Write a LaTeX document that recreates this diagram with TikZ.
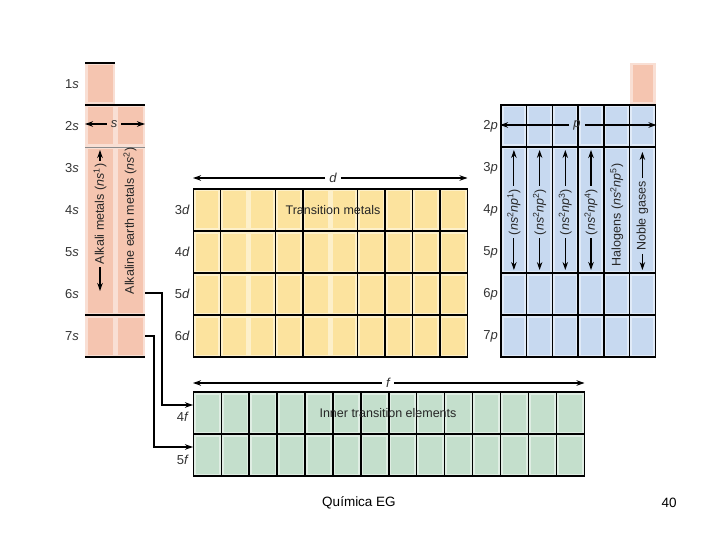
\documentclass[tikz,border=0pt]{standalone}
\usepackage{fontspec}
\setmainfont{Liberation Sans}
\usetikzlibrary{arrows.meta}

\definecolor{sblk}{RGB}{245,197,176}
\definecolor{dblk}{RGB}{252,227,158}
\definecolor{pblk}{RGB}{199,217,240}
\definecolor{fblk}{RGB}{196,223,204}

\tikzset{
  blackline/.style={line width=1.4pt},
  dimarrow/.style={-{Stealth[length=8pt,width=5.5pt]}, line width=1.1pt},
  rowlbl/.style={anchor=east, font=\fontsize{13}{15}\selectfont, inner sep=1pt, text=black!80},
  dimlbl/.style={font=\fontsize{13}{15}\selectfont\itshape, inner sep=4pt, text=black!80},
  collbl/.style={rotate=90, font=\fontsize{12.5}{14}\selectfont, inner sep=3pt, text=black!85},
  blklbl/.style={font=\fontsize{12.5}{14}\selectfont, text=black!85},
  footlbl/.style={font=\fontsize{13.5}{16}\selectfont}
}

% one cell: x, y, width, height, colour
\newcommand{\tcell}[5]{%
  \fill[#5!55!white] (#1,#2) rectangle ++(#3,#4);
  \fill[#5] (#1+2.5,#2+2.5) rectangle ++(#3-5,#4-5);}

\begin{document}
\begin{tikzpicture}[x=1pt,y=-1pt]
\useasboundingbox (0,0) rectangle (720,540);

% s block
\tcell{85}{63}{30}{42}{sblk}
\foreach \c in {0,1} {
  \tcell{85+30*\c}{105}{30}{42}{sblk}
  \tcell{85+30*\c}{147}{30}{168}{sblk}
  \tcell{85+30*\c}{315}{30}{42}{sblk}
}
\draw[black!45, line width=0.4pt] (85,147) -- (145,147);
\draw[blackline] (85,63) -- (115,63) (85,105) -- (145,105)
  (85,315) -- (145,315) (85,357) -- (145,357);

% helium
\tcell{630.2}{63}{25.7}{42}{sblk}

% d block
\foreach \c in {0,...,9} {\foreach \r in {0,...,3} {\tcell{193.3+27.4*\c}{189+42*\r}{27.4}{42}{dblk}}}
\draw[blackline] (193.3,189) rectangle (467.3,357);
\foreach \r in {1,2,3} \draw[blackline] (193.3,189+42*\r) -- (467.3,189+42*\r);
\foreach \c in {1,3,4,6,7,8,9} \draw[blackline] (193.3+27.4*\c,189) -- (193.3+27.4*\c,357);

% p block
\foreach \c in {0,...,5} {
  \tcell{501+25.7*\c}{105}{25.7}{42}{pblk}
  \tcell{501+25.7*\c}{147}{25.7}{126}{pblk}
  \tcell{501+25.7*\c}{273}{25.7}{42}{pblk}
  \tcell{501+25.7*\c}{315}{25.7}{42}{pblk}
}
\draw[blackline] (501,105) rectangle (655.2,357);
\foreach \y in {147,273,315} \draw[blackline] (501,\y) -- (655.2,\y);
\foreach \c in {1,...,5} \draw[blackline] (501+25.7*\c,105) -- (501+25.7*\c,357);

% f block
\foreach \c in {0,...,13} {\foreach \r in {0,1} {\tcell{193.3+27.93*\c}{392+42*\r}{27.93}{42}{fblk}}}
\draw[blackline] (193.3,392) rectangle (584.3,476);
\draw[blackline] (193.3,434) -- (584.3,434);
\foreach \c in {1,...,13} \draw[blackline] (193.3+27.93*\c,392) -- (193.3+27.93*\c,476);

% row labels
\foreach \n in {1,...,7} \node[rowlbl] (ls\n) at (80,42*\n+42) {\n\textit{s}};
\foreach \n in {3,...,6} \node[rowlbl] (ld\n) at (191,42*\n+84) {\n\textit{d}};
\foreach \n in {2,...,7} \node[rowlbl] (lp\n) at (499,42*\n+42) {\n\textit{p}};
\node[rowlbl] (lf4) at (190,417) {4\textit{f}};
\node[rowlbl] (lf5) at (190,460) {5\textit{f}};

% block widths
\node[dimlbl] (sdim) at (114,124) {s};
\coordinate (sdimL) at (85,124);
\coordinate (sdimR) at (145,124);
\draw[dimarrow] (sdim) -- (sdimL);
\draw[dimarrow] (sdim) -- (sdimR);

\node[dimlbl] (ddim) at (333,178) {d};
\coordinate (ddimL) at (193,178);
\coordinate (ddimR) at (467.5,178);
\draw[dimarrow] (ddim) -- (ddimL);
\draw[dimarrow] (ddim) -- (ddimR);

\node[dimlbl] (pdim) at (577,125) {p};
\coordinate (pdimL) at (500,125);
\coordinate (pdimR) at (656.5,125);
\draw[dimarrow] (pdim) -- (pdimL);
\draw[dimarrow] (pdim) -- (pdimR);

\node[dimlbl] (fdim) at (388,383) {f};
\coordinate (fdimL) at (193,383);
\coordinate (fdimR) at (584.5,383);
\draw[dimarrow] (fdim) -- (fdimL);
\draw[dimarrow] (fdim) -- (fdimR);

% group names
\node[collbl] (alk) at (100,214) {Alkali metals (\textit{ns}\textsuperscript{1})};
\coordinate (alkT) at (100,150);
\coordinate (alkB) at (100,291);
\draw[dimarrow] (alk) -- (alkT);
\draw[dimarrow] (alk) -- (alkB);
\node[collbl] (aearth) at (130,221) {Alkaline earth metals (\textit{ns}\textsuperscript{2})};

\foreach \k in {1,...,4} {
  \node[collbl] (pg\k) at (488.2+25.7*\k,212) {(\textit{ns}\textsuperscript{2}\textit{np}\textsuperscript{\k})};
  \coordinate (pgT\k) at (488.2+25.7*\k,150);
  \coordinate (pgB\k) at (488.2+25.7*\k,270);
  \draw[dimarrow] (pg\k) -- (pgT\k);
  \draw[dimarrow] (pg\k) -- (pgB\k);
}
\node[collbl] (halo) at (616.7,215) {Halogens (\textit{ns}\textsuperscript{2}\textit{np}\textsuperscript{5})};
\node[collbl] (noble) at (642.4,216) {Noble gases};
\coordinate (nobT) at (642.4,152);
\coordinate (nobB) at (642.4,270);
\draw[dimarrow] (noble) -- (nobT);
\draw[dimarrow] (noble) -- (nobB);

\node[blklbl] (trans) at (333,210) {Transition metals};
\node[blklbl] (inner) at (388,413) {Inner transition elements};

% lanthanides and actinides
\coordinate (out6) at (145,293);
\coordinate (in4f) at (193,405);
\draw[dimarrow] (out6) -- ++(17,0) |- (in4f);
\coordinate (out7) at (145,336);
\coordinate (in5f) at (193,447);
\draw[dimarrow] (out7) -- ++(9,0) |- (in5f);

\node[footlbl] (course) at (359,503) {Química EG};
\node[footlbl] (pgnum) at (669,503) {40};
\end{tikzpicture}
\end{document}
